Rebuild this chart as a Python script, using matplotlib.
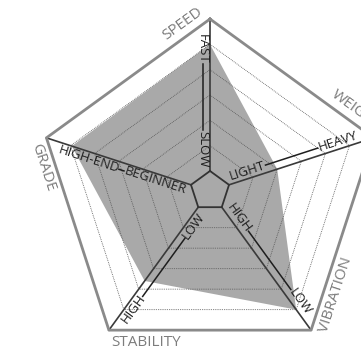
import numpy as np
import matplotlib
matplotlib.use('Agg')
import matplotlib.pyplot as plt
from matplotlib.transforms import ScaledTranslation
from matplotlib.textpath import TextPath
from matplotlib.font_manager import FontProperties

# ---------------- data ----------------
categories = ['SPEED', 'WEIGHT', 'VIBRATION', 'STABILITY', 'GRADE']
values = [5.0, 2.0, 5.0, 3.6, 4.95]
inner_labels = ['SLOW', 'LIGHT', 'HIGH', 'LOW', 'BEGINNER']
outer_labels = ['FAST', 'HEAVY', 'LOW', 'HIGH', 'HIGH-END']
grid_levels = [1, 2, 3, 4, 5]
r_max = 6

# ---------------- layout ----------------
W, H, DPI = 361, 350, 100
fig = plt.figure(figsize=(W / DPI, H / DPI), dpi=DPI)
fig.patch.set_facecolor('white')

cx, cy = 210, 159          # centre in px (from bottom-left)
px_per = 25.33             # px per level
r0 = 20                    # inner pentagon radius in px
rorigin = -r0 / px_per
rad_px = (r_max - rorigin) * px_per
ax = fig.add_axes([(cx - rad_px) / W, (cy - rad_px) / H, 2 * rad_px / W, 2 * rad_px / H],
                  projection='polar')
ax.set_theta_zero_location('N')
ax.set_theta_direction(-1)
ax.set_ylim(0, r_max)
ax.set_rorigin(rorigin)
ax.axis('off')

n = len(categories)
theta = np.arange(n) * 2 * np.pi / n
theta_c = np.append(theta, theta[0])

FONT = 'Open Sans'
fp_in = FontProperties(family=FONT, size=9.5, weight='medium')
fp_out = FontProperties(family=FONT, size=11)

def text_px(s, fp):
    return TextPath((0, 0), s, prop=fp).get_extents().width * DPI / 72.0

def off(dx, dy):
    return ax.transData + ScaledTranslation(dx / DPI, dy / DPI, fig.dpi_scale_trans)

# filled data polygon
vals_c = np.append(values, values[0])
ax.fill(theta_c, vals_c, color='#a9a9a9', lw=0, zorder=1, clip_on=False)

# dotted grid pentagons
for lv in grid_levels:
    ax.plot(theta_c, [lv] * (n + 1), color='#555555', lw=0.6, ls=(0, (1, 1.2)),
            zorder=2, clip_on=False)

# inner and outer pentagons
ax.plot(theta_c, [0] * (n + 1), color='#333333', lw=1.3, zorder=4, clip_on=False)
ax.plot(theta_c, [r_max] * (n + 1), color='#8a8a8a', lw=2.0, zorder=4, clip_on=False)

# axis lines
for t in theta:
    ax.plot([t, t], [0, r_max], color='#3a3a3a', lw=1.2, zorder=3, clip_on=False)

# text lines with labels
perp = 7.5
gap = 2.0
r_in = 0.12
r_out = (157 - r0) / px_per
for i, t in enumerate(theta):
    u = np.array([np.sin(t), np.cos(t)])
    p = np.array([-np.cos(t), np.sin(t)])  # CCW perpendicular
    tr = off(*(perp * p))
    ang = np.degrees(np.arctan2(u[1], u[0]))
    outward = -90 < ang < 90
    rot = ang if outward else (ang - 180 if ang > 0 else ang + 180)
    if rot < -90:
        rot += 180
    w_in = text_px(inner_labels[i], fp_in)
    w_out = text_px(outer_labels[i], fp_in)
    if outward:
        ha_in, ha_out = 'left', 'right'
    else:
        ha_in, ha_out = 'right', 'left'
    ax.text(t, r_in, inner_labels[i], fontproperties=fp_in, color='#1e1e1e',
            rotation=rot, rotation_mode='anchor', ha=ha_in, va='center',
            transform=tr, zorder=6, clip_on=False)
    ax.text(t, r_out, outer_labels[i], fontproperties=fp_in, color='#1e1e1e',
            rotation=rot, rotation_mode='anchor', ha=ha_out, va='center',
            transform=tr, zorder=6, clip_on=False)
    a = r_in + (w_in + gap) / px_per
    b = r_out - (w_out + gap) / px_per
    ax.plot([t, t], [a, b], color='#1e1e1e', lw=1.1, transform=tr, zorder=5, clip_on=False)

# category labels along the outer edges
edge_off = 12.5
edge_gap = 2.0
for i, t in enumerate(theta):
    tp = theta[i - 1]
    ui = np.array([np.sin(t), np.cos(t)])
    up = np.array([np.sin(tp), np.cos(tp)])
    e = up - ui
    e = e / np.linalg.norm(e)
    nrm = ui + up
    nrm = nrm / np.linalg.norm(nrm)
    ang = np.degrees(np.arctan2(e[1], e[0]))
    if -90 < ang <= 90:
        rot, ha = ang, 'left'
    else:
        rot = ang - 180 if ang > 0 else ang + 180
        ha = 'right'
    d = edge_gap * e + edge_off * nrm
    ax.text(t, r_max, categories[i], fontproperties=fp_out, color='#7c7c7c',
            rotation=rot, rotation_mode='anchor', ha=ha, va='center',
            transform=off(*d), zorder=6, clip_on=False)

fig.savefig('out.png', dpi=DPI)
